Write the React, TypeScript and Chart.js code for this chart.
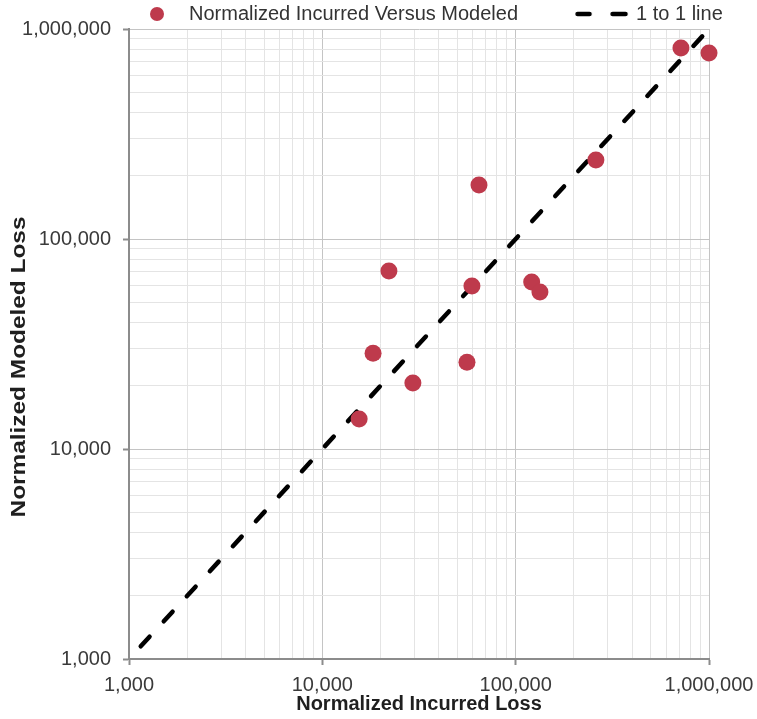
import { useEffect, useRef } from 'react';
import { Chart, registerables } from 'chart.js';

Chart.register(...registerables);

// ---- data ----
const incurredLoss = [15500, 18300, 22100, 29400, 56000, 59400, 64600, 121000, 133500, 260000, 716000, 1000000];
const modeledLoss = [13900, 28600, 70400, 20600, 25900, 59700, 180700, 62400, 55900, 237900, 812000, 769000];
const oneToOneX = [1150, 1000000];
const oneToOneY = [1150, 1000000];
const decades = [1000, 10000, 100000, 1000000];
const minorMultipliers = [2, 3, 4, 5, 6, 7, 8, 9];
const seriesLabels = ['Normalized Incurred Versus Modeled', '1 to 1 line'];
const xTitle = 'Normalized Incurred Loss';
const yTitle = 'Normalized Modeled Loss';

// ---- style ----
const FONT = "'Liberation Sans', Arial, sans-serif";
const POINT_COLOR = '#be3a4c';
const MAJOR_GRID = '#c4c4c4';
const MINOR_GRID = '#e4e4e4';
const AXIS_COLOR = '#8c8c8c';
const TICK_TEXT = '#3a3a3a';

function buildTicks(scale: any) {
  const ticks: any[] = [];
  decades.forEach((d, i) => {
    ticks.push({ value: d, major: true });
    if (i < decades.length - 1) {
      minorMultipliers.forEach((m) => ticks.push({ value: d * m, major: false }));
    }
  });
  scale.ticks = ticks;
}

const isDecade = (v: number) => decades.includes(Number(v));
const fmt = (v: any) => (isDecade(v) ? Number(v).toLocaleString('en-US') : '');
const gridColor = (ctx: any) => (ctx.tick && isDecade(ctx.tick.value) ? MAJOR_GRID : MINOR_GRID);
const tickColor = (ctx: any) => (ctx.tick && isDecade(ctx.tick.value) ? AXIS_COLOR : 'rgba(0,0,0,0)');

function makeCircleIcon() {
  const c = document.createElement('canvas');
  c.width = 76;
  c.height = 18;
  const g = c.getContext('2d')!;
  g.fillStyle = POINT_COLOR;
  g.beginPath();
  g.arc(68, 9, 7, 0, Math.PI * 2);
  g.fill();
  return c;
}

function makeDashIcon() {
  const c = document.createElement('canvas');
  c.width = 112;
  c.height = 10;
  const g = c.getContext('2d')!;
  g.strokeStyle = '#000';
  g.lineWidth = 4.5;
  g.lineCap = 'round';
  g.beginPath();
  g.moveTo(59.5, 5);
  g.lineTo(71.5, 5);
  g.moveTo(94.5, 5);
  g.lineTo(107.5, 5);
  g.stroke();
  return c;
}

const legendFix = {
  id: 'legendFix',
  beforeUpdate(chart: any) {
    const legend = chart.legend;
    if (legend && !legend.__patched) {
      const fit = legend.fit;
      legend.fit = function () {
        fit.call(this);
        this.height = 29;
      };
      legend.__patched = true;
    }
  },
  afterLayout(chart: any) {
    const legend = chart.legend;
    if (legend) {
      legend.left = 71;
      legend.right = 757;
    }
  },
};

const axisTitles = {
  id: 'axisTitles',
  afterDraw(chart: any) {
    const { ctx, chartArea } = chart;
    ctx.save();
    ctx.fillStyle = '#1f1f1f';
    ctx.font = `bold 20px ${FONT}`;
    ctx.textAlign = 'center';
    ctx.textBaseline = 'middle';
    ctx.fillText(xTitle, (chartArea.left + chartArea.right) / 2, 704);
    ctx.translate(19, 367);
    ctx.rotate(-Math.PI / 2);
    ctx.scale(1.22, 1);
    ctx.fillText(yTitle, 0, 0);
    ctx.restore();
  },
};

export default function App() {
  const ref = useRef<HTMLCanvasElement>(null);

  useEffect(() => {
    document.body.style.margin = '0';
    const canvas = ref.current;
    if (!canvas) return;
    const icons = [makeCircleIcon(), makeDashIcon()];

    const chart = new Chart(canvas, {
      type: 'scatter',
      data: {
        datasets: [
          {
            label: seriesLabels[0],
            data: incurredLoss.map((x, i) => ({ x, y: modeledLoss[i] })),
            backgroundColor: POINT_COLOR,
            borderColor: POINT_COLOR,
            borderWidth: 0,
            pointRadius: 8.5,
            pointHoverRadius: 8.5,
            clip: false,
          } as any,
          {
            label: seriesLabels[1],
            data: oneToOneX.map((x, i) => ({ x, y: oneToOneY[i] })),
            showLine: true,
            borderColor: '#000',
            backgroundColor: '#000',
            borderWidth: 4.5,
            borderDash: [13, 21],
            borderCapStyle: 'round',
            pointRadius: 0,
            pointHoverRadius: 0,
            fill: false,
            clip: false,
          } as any,
        ],
      },
      options: {
        responsive: false,
        animation: false,
        devicePixelRatio: 1,
        events: [],
        layout: { padding: { left: 0, right: 0, top: 0, bottom: 0 } },
        plugins: {
          tooltip: { enabled: false },
          legend: {
            display: true,
            position: 'top',
            align: 'start',
            labels: {
              usePointStyle: true,
              pointStyleWidth: 104,
              padding: 4,
              color: '#333333',
              font: { family: FONT, size: 20 },
              generateLabels: (c: any) =>
                (Chart.defaults.plugins.legend.labels.generateLabels as any)(c).map((item: any, i: number) => ({
                  ...item,
                  pointStyle: icons[i],
                })),
            },
          },
        },
        scales: {
          x: {
            type: 'logarithmic',
            position: 'bottom',
            min: 1000,
            max: 1000000,
            afterBuildTicks: buildTicks,
            afterFit: (s: any) => {
              s.height = 60;
              s.paddingRight = 48;
            },
            ticks: {
              autoSkip: false,
              maxRotation: 0,
              minRotation: 0,
              callback: fmt,
              color: TICK_TEXT,
              font: { family: FONT, size: 20 },
              padding: 8,
            },
            grid: {
              color: gridColor,
              tickColor: tickColor,
              tickLength: 6,
              tickWidth: 2,
              lineWidth: 1,
            },
            border: { color: AXIS_COLOR, width: 2 },
          } as any,
          y: {
            type: 'logarithmic',
            position: 'left',
            min: 1000,
            max: 1000000,
            afterBuildTicks: buildTicks,
            afterFit: (s: any) => {
              s.width = 129;
            },
            ticks: {
              autoSkip: false,
              callback: fmt,
              color: TICK_TEXT,
              font: { family: FONT, size: 20 },
              padding: 12,
            },
            grid: {
              color: gridColor,
              tickColor: tickColor,
              tickLength: 6,
              tickWidth: 2,
              lineWidth: 1,
            },
            border: { color: AXIS_COLOR, width: 2 },
          } as any,
        },
      } as any,
      plugins: [legendFix, axisTitles],
    });

    return () => chart.destroy();
  }, []);

  return (
    <div style={{ width: 757, height: 719, background: '#ffffff' }}>
      <canvas ref={ref} width={757} height={719} style={{ display: 'block' }} />
    </div>
  );
}
